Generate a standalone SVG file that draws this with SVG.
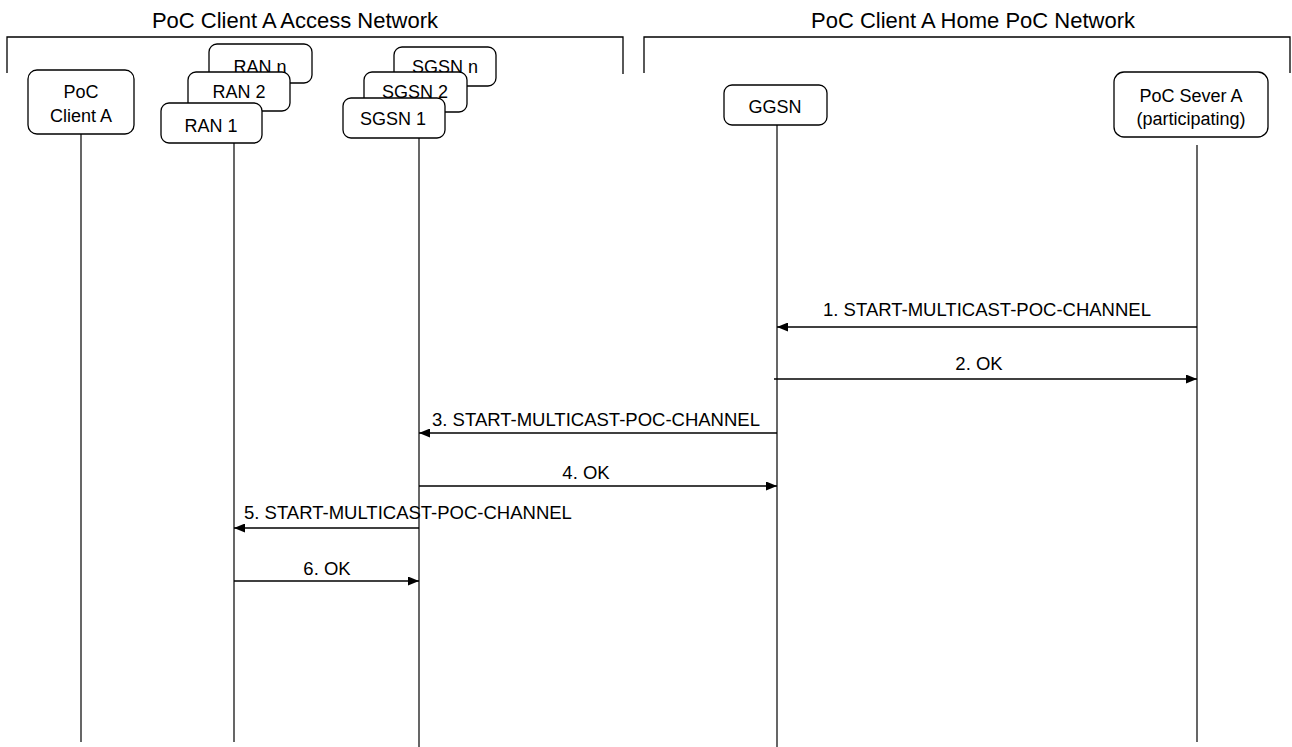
<svg xmlns="http://www.w3.org/2000/svg" width="1292" height="747" viewBox="0 0 1292 747">
<style>
text{font-family:"Liberation Sans",Arial,sans-serif;fill:#000}
.t{font-size:22px;text-anchor:middle}
.n{font-size:18px;text-anchor:middle}
.l{font-size:18.5px}
.box{fill:#fff;stroke:#000;stroke-width:1.3}
.br{fill:none;stroke:#000;stroke-width:1.3}
.life{stroke:#000;stroke-width:1.2;fill:none}
.msg{stroke:#000;stroke-width:1.5;fill:none;marker-end:url(#ah)}
</style>
<defs>
<marker id="ah" viewBox="0 0 11 9" refX="11" refY="4.5" markerWidth="11" markerHeight="9" markerUnits="userSpaceOnUse" orient="auto">
<path d="M0,0 L11,4.5 L0,9 Z" fill="#000"/>
</marker>
</defs>
<rect width="1292" height="747" fill="#fff"/>
<g id="access-network">
<path class="br" d="M7,73 V37 H623 V74"/>
<text class="t" x="295" y="28">PoC Client A Access Network</text>
</g>
<g id="home-network">
<path class="br" d="M644,73 V37 H1290 V73"/>
<text class="t" x="973" y="28">PoC Client A Home PoC Network</text>
</g>
<g id="lifelines">
<line class="life" x1="81" y1="134" x2="81" y2="742"/>
<line class="life" x1="234" y1="143" x2="234" y2="742"/>
<line class="life" x1="419" y1="138" x2="419" y2="747"/>
<line class="life" x1="777" y1="125" x2="777" y2="747"/>
<line class="life" x1="1197" y1="145" x2="1197" y2="742"/>
</g>
<g id="poc-client-a">
<rect class="box" x="28" y="70" width="106" height="64" rx="9"/>
<text class="n" x="81" y="98">PoC</text>
<text class="n" x="81" y="122">Client A</text>
</g>
<g id="ran-n">
<rect class="box" x="209" y="44" width="103" height="39" rx="8"/>
<text class="n" x="260" y="73">RAN n</text>
</g>
<g id="ran-2">
<rect class="box" x="188" y="72" width="102" height="39" rx="8"/>
<text class="n" x="239" y="98">RAN 2</text>
</g>
<g id="ran-1">
<rect class="box" x="161" y="103" width="101" height="40" rx="8"/>
<text class="n" x="211" y="132">RAN 1</text>
</g>
<g id="sgsn-n">
<rect class="box" x="394" y="47" width="102" height="39" rx="8"/>
<text class="n" x="445" y="73">SGSN n</text>
</g>
<g id="sgsn-2">
<rect class="box" x="364" y="72" width="103" height="40" rx="8"/>
<text class="n" x="415" y="98">SGSN 2</text>
</g>
<g id="sgsn-1">
<rect class="box" x="343" y="98" width="102" height="40" rx="8"/>
<text class="n" x="393" y="125">SGSN 1</text>
</g>
<g id="ggsn">
<rect class="box" x="724" y="85" width="103" height="40" rx="8"/>
<text class="n" x="775" y="113">GGSN</text>
</g>
<g id="poc-server-a">
<rect class="box" x="1114" y="72" width="154" height="65" rx="10"/>
<text class="n" x="1191" y="102">PoC Sever A</text>
<text class="n" x="1191" y="125">(participating)</text>
</g>
<g id="connectors">
<line class="msg" x1="1197" y1="327" x2="777" y2="327"/>
<text class="l" x="987" y="316" text-anchor="middle">1. START-MULTICAST-POC-CHANNEL</text>
<line class="msg" x1="774" y1="379" x2="1197" y2="379"/>
<text class="l" x="979" y="370" text-anchor="middle">2. OK</text>
<line class="msg" x1="777" y1="433" x2="419" y2="433"/>
<text class="l" x="596" y="426" text-anchor="middle">3. START-MULTICAST-POC-CHANNEL</text>
<line class="msg" x1="419" y1="486" x2="777" y2="486"/>
<text class="l" x="586" y="479" text-anchor="middle">4. OK</text>
<line class="msg" x1="419" y1="528" x2="234" y2="528"/>
<text class="l" x="244" y="519">5. START-MULTICAST-POC-CHANNEL</text>
<line class="msg" x1="234" y1="581" x2="419" y2="581"/>
<text class="l" x="327" y="575" text-anchor="middle">6. OK</text>
</g>
</svg>
